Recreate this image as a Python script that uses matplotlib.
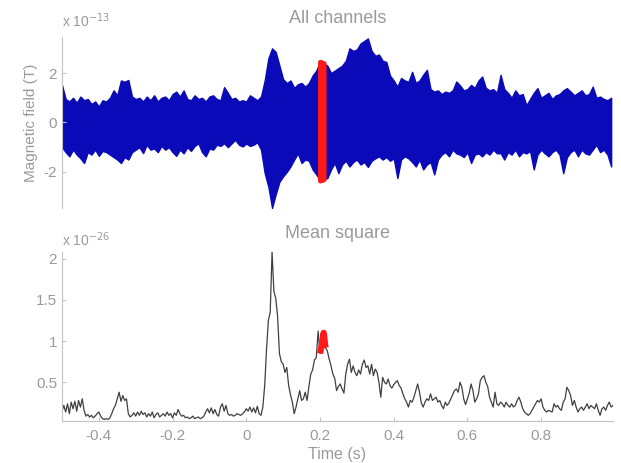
import numpy as np
import matplotlib
matplotlib.use('Agg')
import matplotlib.pyplot as plt

plt.rcParams['font.family'] = ['Liberation Sans', 'DejaVu Sans']

# envelope over all channels (x 1e-13 T), one value every 10 ms from -0.5 s
upper = [1.52, 0.95, 0.85, 1.0, 0.8, 1.05, 0.9, 0.95, 0.75, 0.85,
         0.65, 0.9, 0.85, 1.0, 1.3, 1.1, 1.7, 1.65, 1.72, 1.05,
         0.95, 1.0, 0.85, 1.05, 0.9, 1.1, 0.85, 1.0, 1.05, 0.9,
         1.15, 1.25, 1.05, 1.3, 0.95, 0.9, 1.1, 0.95, 1.0, 0.85,
         1.05, 1.1, 0.95, 0.9, 1.43, 1.2, 0.95, 1.0, 0.85, 0.9,
         0.85, 1.1, 1.0, 0.9, 1.05, 1.7, 2.6, 3.0, 2.85, 2.3,
         1.75, 1.6, 1.7, 1.4, 1.55, 1.6, 1.45, 1.6, 1.9, 2.1,
         2.46, 2.4, 2.3, 2.0, 2.1, 2.2, 2.3, 2.5, 3.0, 2.9,
         2.95, 3.2, 3.3, 3.4, 2.9, 2.7, 2.75, 2.5, 2.45, 1.9,
         1.7, 1.45, 1.8, 1.7, 1.65, 2.05, 1.6, 1.7, 1.93, 2.13,
         1.35, 1.25, 1.3, 1.15, 1.25, 1.2, 1.3, 1.66, 1.5, 1.3,
         1.35, 1.52, 1.4, 1.7, 1.86, 1.4, 1.3, 1.35, 1.2, 1.93,
         1.35, 1.2, 1.0, 1.3, 1.1, 1.15, 0.7, 0.95, 1.2, 1.39,
         1.0, 1.1, 1.2, 0.95, 1.1, 1.15, 1.3, 1.39, 1.25, 1.1,
         1.2, 1.3, 1.1, 1.15, 1.45, 1.0, 1.05, 0.95, 0.9, 1.0]
lower = [-1.0, -1.2, -1.37, -1.1, -1.3, -1.45, -1.64, -1.2, -1.3, -1.1,
         -1.35, -1.15, -1.2, -1.3, -1.4, -1.5, -1.64, -1.4, -1.5, -1.2,
         -1.1, -1.0, -1.24, -0.9, -1.1, -1.05, -1.2, -0.95, -1.1, -1.0,
         -1.2, -1.35, -1.1, -1.25, -1.0, -1.15, -0.95, -0.84, -1.2, -1.37,
         -1.05, -1.1, -0.9, -0.95, -0.84, -1.0, -0.85, -0.7, -0.9, -0.97,
         -0.85, -0.95, -0.9, -0.8, -1.1, -2.05, -2.6, -3.46, -2.9, -2.4,
         -2.18, -2.0, -1.78, -1.5, -1.25, -1.64, -1.5, -1.55, -1.9, -2.1,
         -2.35, -2.3, -2.25, -1.9, -1.64, -2.05, -1.7, -1.55, -1.78, -1.6,
         -1.5, -1.7, -1.6, -1.8, -1.55, -1.45, -1.37, -1.5, -1.4, -1.55,
         -1.45, -2.25, -1.5, -1.37, -1.45, -1.6, -1.78, -1.5, -1.9, -1.7,
         -1.6, -2.1, -1.5, -1.3, -1.2, -1.37, -1.1, -1.25, -1.3, -1.4,
         -1.2, -1.64, -1.3, -1.25, -1.37, -1.2, -1.3, -1.1, -1.25, -1.24,
         -1.5, -1.2, -1.3, -1.1, -1.37, -1.2, -1.25, -1.15, -1.9, -1.3,
         -1.1, -1.25, -1.37, -1.2, -1.1, -1.3, -2.05, -1.4, -1.2, -1.1,
         -1.37, -1.1, -1.25, -1.3, -1.1, -0.9, -1.2, -1.1, -1.3, -1.78]

# mean square (x 1e-26), one value every 5 ms from -0.5 s
ms = [0.15, 0.22, 0.14, 0.24, 0.12, 0.26, 0.18, 0.27, 0.15, 0.28, 0.2, 0.3, 0.16, 0.09, 0.11, 0.08, 0.1, 0.07, 0.09, 0.12,
      0.14, 0.09, 0.06, 0.05, 0.06, 0.05, 0.07, 0.12, 0.18, 0.22, 0.3, 0.38, 0.27, 0.34, 0.28, 0.3, 0.12, 0.08, 0.1, 0.13,
      0.09, 0.14, 0.1, 0.15, 0.11, 0.13, 0.08, 0.12, 0.09, 0.14, 0.07, 0.11, 0.13, 0.08, 0.1, 0.12, 0.09, 0.14, 0.1, 0.12,
      0.07, 0.13, 0.1, 0.17, 0.12, 0.09, 0.1, 0.07, 0.08, 0.06, 0.07, 0.09, 0.06, 0.07, 0.08, 0.06, 0.07, 0.09, 0.14, 0.18,
      0.13, 0.19, 0.12, 0.17, 0.11, 0.09, 0.2, 0.24, 0.15, 0.22, 0.12, 0.1, 0.11, 0.09, 0.1, 0.12, 0.11, 0.1, 0.12, 0.14,
      0.18, 0.15, 0.2, 0.14, 0.19, 0.13, 0.21, 0.12, 0.1, 0.2, 0.46, 0.9, 1.25, 1.35, 2.08, 1.6, 1.52, 1.3, 0.85, 0.75,
      0.72, 0.62, 0.68, 0.46, 0.35, 0.26, 0.12, 0.2, 0.3, 0.4, 0.28, 0.3, 0.38, 0.28, 0.45, 0.6, 0.65, 0.77, 0.8, 1.12,
      0.85, 0.95, 1.1, 0.92, 0.88, 0.78, 0.7, 0.6, 0.55, 0.4, 0.45, 0.48, 0.42, 0.37, 0.6, 0.72, 0.78, 0.62, 0.7, 0.62,
      0.58, 0.65, 0.6, 0.72, 0.77, 0.68, 0.7, 0.6, 0.72, 0.58, 0.66, 0.62, 0.5, 0.32, 0.56, 0.5, 0.48, 0.54, 0.46, 0.43,
      0.47, 0.5, 0.52, 0.46, 0.43, 0.36, 0.3, 0.26, 0.2, 0.28, 0.26, 0.32, 0.4, 0.48, 0.38, 0.25, 0.2, 0.26, 0.3, 0.28,
      0.36, 0.28, 0.3, 0.32, 0.26, 0.28, 0.22, 0.18, 0.26, 0.22, 0.25, 0.3, 0.35, 0.4, 0.42, 0.38, 0.5, 0.44, 0.3, 0.23,
      0.3, 0.37, 0.48, 0.4, 0.26, 0.3, 0.36, 0.52, 0.56, 0.58, 0.5, 0.45, 0.32, 0.26, 0.2, 0.38, 0.24, 0.22, 0.26, 0.24,
      0.2, 0.26, 0.22, 0.2, 0.24, 0.2, 0.22, 0.28, 0.32, 0.26, 0.18, 0.14, 0.12, 0.1, 0.12, 0.16, 0.2, 0.24, 0.28, 0.26,
      0.3, 0.2, 0.16, 0.14, 0.16, 0.15, 0.14, 0.24, 0.2, 0.22, 0.18, 0.16, 0.26, 0.3, 0.44, 0.4, 0.34, 0.22, 0.28, 0.2,
      0.14, 0.18, 0.2, 0.16, 0.2, 0.24, 0.18, 0.22, 0.2, 0.18, 0.24, 0.16, 0.1, 0.18, 0.2, 0.16, 0.22, 0.26, 0.2, 0.22]

t_env = np.round(np.arange(len(upper)) * 0.01 - 0.5, 3)
t_ms = np.round(np.arange(len(ms)) * 0.005 - 0.5, 3)
upper = np.array(upper)
lower = np.array(lower)
ms = np.array(ms)
win = (0.2, 0.215)   # selected time window

gray = '#9a9a9a'
axcol = '#c4c4c4'
blue = '#0a0ab8'
red = '#ff1a1a'

fig = plt.figure(figsize=(6.21, 4.63), dpi=100)
ax1 = fig.add_axes([0.0998, 0.5508, 0.8873, 0.3693])
ax2 = fig.add_axes([0.0998, 0.0914, 0.8873, 0.3644])

# top: all channels
ax1.fill_between(t_env, lower, upper, color=blue, edgecolor=blue, lw=1.0)
m = (t_env >= win[0]) & (t_env <= win[1] + 1e-9)
ax1.fill_between(t_env[m], lower[m], upper[m], color=red, edgecolor=red, lw=3.5)
ax1.set_xlim(-0.5, 0.995)
ax1.set_ylim(-3.46, 3.46)
ax1.set_yticks([-2, 0, 2])
ax1.set_yticklabels(['-2', '0', '2'])
ax1.set_xticks([])
for s in ['top', 'right', 'bottom']:
    ax1.spines[s].set_visible(False)
ax1.spines['left'].set_color(axcol)
ax1.tick_params(axis='y', direction='in', length=3, colors=axcol, labelcolor=gray, labelsize=11)
ax1.set_ylabel('Magnetic field (T)', color=gray, fontsize=11, labelpad=4)
ax1.set_title('All channels', color=gray, fontsize=13, pad=10)
ax1.text(0, 1.04, r'x 10$^{-13}$', transform=ax1.transAxes, color=gray, fontsize=10, va='bottom')

# bottom: mean square
ax2.plot(t_ms, ms, color='#404040', lw=0.9)
m2 = (t_ms >= win[0]) & (t_ms <= win[1] + 1e-9)
ax2.plot(t_ms[m2], ms[m2], color=red, lw=4.5, solid_capstyle='butt')
ax2.set_xlim(-0.5, 0.995)
ax2.set_ylim(0.035, 2.08)
ax2.set_yticks([0.5, 1, 1.5, 2])
ax2.set_yticklabels(['0.5', '1', '1.5', '2'])
ax2.set_xticks([-0.4, -0.2, 0, 0.2, 0.4, 0.6, 0.8])
ax2.set_xticklabels(['-0.4', '-0.2', '0', '0.2', '0.4', '0.6', '0.8'])
for s in ['top', 'right']:
    ax2.spines[s].set_visible(False)
ax2.spines['left'].set_color(axcol)
ax2.spines['bottom'].set_color(axcol)
ax2.tick_params(direction='in', length=3, colors=axcol, labelcolor=gray, labelsize=11)
ax2.tick_params(axis='x', pad=6)
ax2.set_xlabel('Time (s)', color=gray, fontsize=11.5, labelpad=3)
ax2.set_title('Mean square', color=gray, fontsize=13, pad=10)
ax2.text(0, 1.02, r'x 10$^{-26}$', transform=ax2.transAxes, color=gray, fontsize=10, va='bottom')

fig.savefig('out.png', dpi=100)
